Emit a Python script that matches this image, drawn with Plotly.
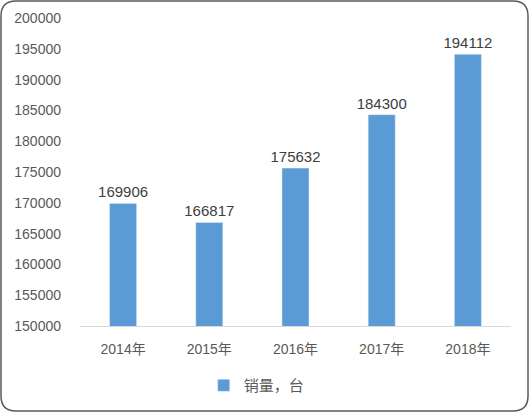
import plotly.graph_objects as go

years = ["2014年", "2015年", "2016年", "2017年", "2018年"]
sales = [169906, 166817, 175632, 184300, 194112]
series_name = "销量，台"

W, H = 529, 413
L, R, T, B = 80, 18, 18, 87
pw, ph = W - L - R, H - T - B


def px(x):
    return (x - L) / pw


def py(y):
    return (H - B - y) / ph


def rounded_box(x0, y0, x1, y1, r):
    pts = [
        f"M {px(x0 + r)},{py(y0)}",
        f"L {px(x1 - r)},{py(y0)}",
        f"Q {px(x1)},{py(y0)} {px(x1)},{py(y0 + r)}",
        f"L {px(x1)},{py(y1 - r)}",
        f"Q {px(x1)},{py(y1)} {px(x1 - r)},{py(y1)}",
        f"L {px(x0 + r)},{py(y1)}",
        f"Q {px(x0)},{py(y1)} {px(x0)},{py(y1 - r)}",
        f"L {px(x0)},{py(y0 + r)}",
        f"Q {px(x0)},{py(y0)} {px(x0 + r)},{py(y0)}",
        "Z",
    ]
    return " ".join(pts)


fig = go.Figure()

fig.add_trace(go.Bar(
    x=years,
    y=sales,
    name=series_name,
    marker=dict(color="#5B9BD5"),
    width=0.314,
    text=[str(v) for v in sales],
    textposition="outside",
    constraintext="none",
    textfont=dict(size=15, color="#404040"),
    cliponaxis=False,
))

fig.update_layout(
    width=W,
    height=H,
    margin=dict(l=L, r=R, t=T, b=B, autoexpand=False),
    paper_bgcolor="white",
    plot_bgcolor="white",
    font=dict(family="Liberation Sans, Noto Sans CJK SC", color="#595959"),
    showlegend=True,
    legend=dict(
        orientation="h",
        x=0.41, xanchor="center",
        y=py(369), yanchor="top",
        bgcolor="rgba(0,0,0,0)",
        font=dict(size=15, color="#595959"),
        itemwidth=30,
    ),
    xaxis=dict(
        showline=True, linecolor="#D9D9D9", linewidth=1,
        ticks="", tickfont=dict(size=14, color="#595959"),
        ticklabelstandoff=10,
        showgrid=False,
        automargin=False,
    ),
    yaxis=dict(
        range=[150000, 200000],
        dtick=5000,
        tickformat="d",
        showgrid=False,
        zeroline=False,
        showline=False,
        ticks="",
        tickfont=dict(size=14, color="#595959"),
        ticklabelstandoff=18,
        automargin=False,
    ),
    shapes=[dict(
        type="path",
        xref="paper", yref="paper",
        path=rounded_box(1, 1, 528, 411, 15),
        line=dict(color="#595959", width=1.5),
        layer="above",
    )],
)

fig.write_html(
    "out.html",
    config={"displayModeBar": False},
    post_script="document.body.style.margin='0';document.body.style.overflow='hidden';",
)
